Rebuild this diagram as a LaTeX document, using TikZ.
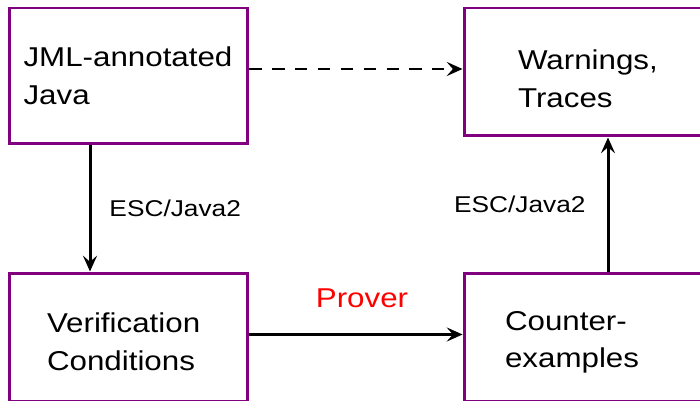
\documentclass[tikz,border=0pt]{standalone}
\usepackage{fontspec}
\setmainfont{Liberation Sans}[FakeStretch=1.15]
\usetikzlibrary{arrows.meta, positioning}
\definecolor{boxpurple}{RGB}{128,0,128}
\hyphenpenalty=10000
\exhyphenpenalty=10000

\begin{document}
\begin{tikzpicture}[
    x=0.02cm, y=-0.02cm,
    box/.style={draw=boxpurple, line width=1.7pt, align=left, inner sep=0pt,
                font=\fontsize{15.5}{21.5}\selectfont},
    flow/.style={draw, line width=1.7pt, -{Stealth[length=9pt, width=8pt, inset=3.5pt]}},
    tool/.style={font=\fontsize{13}{16}\selectfont, inner sep=0pt},
    prover/.style={font=\fontsize{15.5}{18}\selectfont, text=red, inner sep=0pt}
]
    \useasboundingbox (0,0) rectangle (700,401);
    \clip (0,0) rectangle (700,401);

    % the four stages
    \node[box, minimum width=4.78cm, minimum height=2.72cm, text width=4.2cm] (jml) at (128.5,76) {JML-annotated\\Java};
    \node[box, minimum width=5.92cm, minimum height=2.56cm, text width=3.76cm, text height=19.3pt] (warn) at (612,72) {Warnings,\\Traces};
    \node[box, minimum width=4.78cm, minimum height=2.58cm, text width=3.26cm, text height=16.4pt] (vc) at (128.5,337.5) {Verification\\Conditions};
    \node[box, minimum width=5.92cm, minimum height=2.58cm, text width=4.28cm, text height=16.4pt] (ce) at (612,337.5) {Counter-\\examples};

    % tool chain
    \draw[flow, dash pattern=on 7pt off 6pt] ([yshift=0.14cm]jml.east) -- ([yshift=0.14cm]jml.east -| warn.west);
    \draw[flow] ([xshift=-0.77cm]jml.south) -- node[tool, right=0.36cm] (esc1) {ESC/Java2} ([xshift=-0.77cm]vc.north);
    \draw[flow] ([yshift=0.06cm]vc.east) -- node[prover, above=0.5cm, xshift=0.12cm] (prv) {Prover} ([yshift=0.06cm]ce.west);
    \draw[flow] ([xshift=-0.08cm]ce.north) -- node[tool, left=0.42cm] (esc2) {ESC/Java2} ([xshift=-0.08cm]warn.south);
\end{tikzpicture}
\end{document}
